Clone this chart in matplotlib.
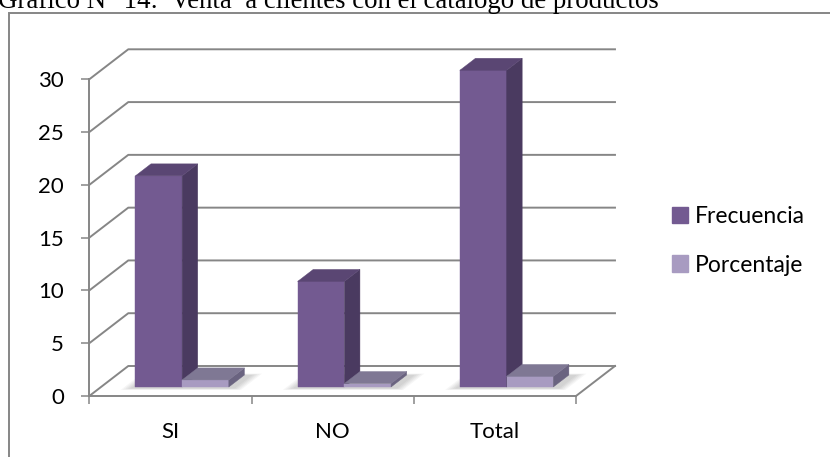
import matplotlib.pyplot as plt
from matplotlib.patches import Polygon, Rectangle, Patch

categorias = ["SI", "NO", "Total"]
series = ["Frecuencia", "Porcentaje"]
frecuencia = [20, 10, 30]
porcentaje = [0.67, 0.33, 1.00]
valores_y = [0, 5, 10, 15, 20, 25, 30]
titulo = "Gráfico N° 14:  Venta  a clientes con el catálogo de productos"

# colores: cara frontal, lateral, superior
COL_FREC = ("#735a91", "#4a3a60", "#5a4673")
COL_PORC = ("#a89bc1", "#6a6380", "#7f7894")
GRIS = "#868686"

# proyeccion oblicua: cuanto se desplaza una unidad de profundidad
DX = 0.2403
DY = 2.842
ANCHO = 0.288
Z0, Z1 = 0.3, 0.7


def P(x, y, z):
    return (x + z * DX, y + z * DY)


def caja(ax, x0, x1, h, colores):
    frente, lado, arriba = colores
    caras = [
        ([P(x0, 0, Z0), P(x1, 0, Z0), P(x1, h, Z0), P(x0, h, Z0)], frente),
        ([P(x1, 0, Z0), P(x1, 0, Z1), P(x1, h, Z1), P(x1, h, Z0)], lado),
        ([P(x0, h, Z0), P(x1, h, Z0), P(x1, h, Z1), P(x0, h, Z1)], arriba),
    ]
    for pts, c in caras:
        ax.add_patch(Polygon(pts, closed=True, facecolor=c, edgecolor=c,
                             linewidth=0.3, clip_on=False, zorder=5))


def sombra(ax, x0, x1):
    for k in range(5):
        e = 0.012 * k
        pts = [P(x0 - e - 0.02, 0, Z0 - 0.05 - e), P(x1 + e + 0.05, 0, Z0 - 0.05 - e),
               P(x1 + e + 0.05, 0, Z1 + e), P(x0 - e - 0.02, 0, Z1 + e)]
        ax.add_patch(Polygon(pts, closed=True, facecolor="black", edgecolor="none",
                             alpha=0.035, clip_on=False, zorder=3))


plt.rcParams['font.family'] = ['Lato', 'DejaVu Sans']

fig = plt.figure(figsize=(8.3, 4.57), dpi=100)
W, H = 830, 457
ax = fig.add_axes([89.3 / W, (H - 396) / H, (576 - 89.3) / W, (396 - 79.3) / H])
ax.set_xlim(-0.5, 2.5)
ax.set_ylim(0, 30)
ax.patch.set_visible(False)

for s in ["top", "right"]:
    ax.spines[s].set_visible(False)
for s in ["left", "bottom"]:
    ax.spines[s].set_color(GRIS)
    ax.spines[s].set_linewidth(1.4)
    ax.spines[s].set_zorder(2)

# pared lateral y pared del fondo con las lineas de division
for v in valores_y:
    xs, ys = zip(P(-0.5, v, 0), P(-0.5, v, 1), P(2.5, v, 1))
    ax.plot(xs, ys, color=GRIS, lw=1.4, clip_on=False, zorder=1)
xs, ys = zip(P(2.5, 0, 0), P(2.5, 0, 1))
ax.plot(xs, ys, color=GRIS, lw=1.4, clip_on=False, zorder=1)

ax.set_yticks(valores_y)
ax.tick_params(axis="y", length=5.8, width=1.1, color=GRIS, pad=12.5,
               labelsize=16, labelcolor="black")
ax.set_xticks([-0.5, 0.5, 1.5, 2.5])
ax.set_xticklabels([])
ax.set_xticks(range(len(categorias)), minor=True)
ax.set_xticklabels(categorias, minor=True)
ax.tick_params(axis="x", which="major", length=5.8, width=1.1, color=GRIS)
ax.tick_params(axis="x", which="minor", length=0, pad=19, labelsize=16,
               labelcolor="black")

for i in range(len(categorias)):
    sombra(ax, i - ANCHO, i + ANCHO)
    caja(ax, i - ANCHO, i, frecuencia[i], COL_FREC)
    caja(ax, i, i + ANCHO, porcentaje[i], COL_PORC)

fig.legend(handles=[Patch(color=COL_FREC[0]), Patch(color=COL_PORC[0])],
           labels=series, loc="upper left", bbox_to_anchor=(672 / W, 1 - 206 / H),
           frameon=False, fontsize=16.5, handlelength=0.7, handleheight=0.7,
           handletextpad=0.3, labelspacing=1.2, borderpad=0, borderaxespad=0)

# marco del area del grafico
fig.add_artist(Rectangle((9 / W, -0.1), 1.2, 1 - 13 / H + 0.1, transform=fig.transFigure,
                         facecolor="none", edgecolor=GRIS, linewidth=1.4))

fig.text(-0.002, 1 - 7.5 / H, titulo, family=["Liberation Serif"], fontsize=19.4,
         va="baseline", ha="left")

fig.savefig("out.png", dpi=100)
